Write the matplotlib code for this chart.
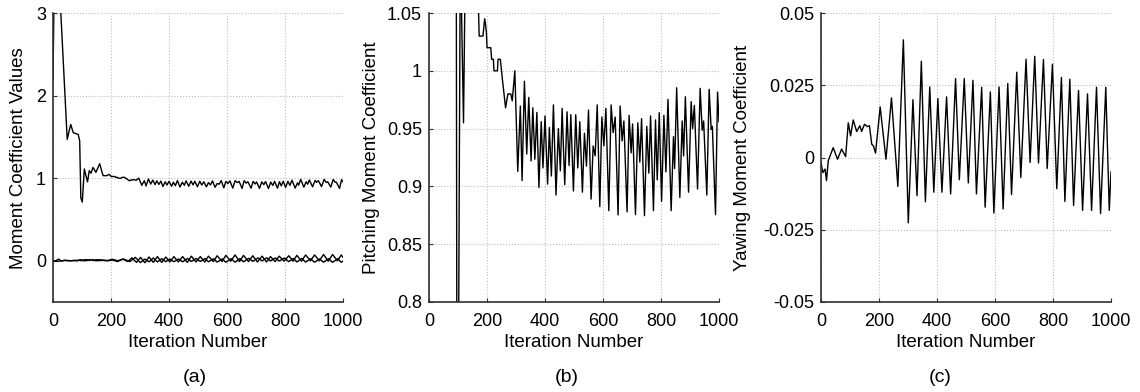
import matplotlib
matplotlib.use("Agg")
import matplotlib.pyplot as plt
from matplotlib.ticker import FixedLocator, FuncFormatter

plt.rcParams['font.family'] = ['Liberation Sans', 'DejaVu Sans']

# ---------------- data ----------------
# Pitching moment coefficient (iteration, value)
pitch_iter = [0, 5, 15, 27, 49, 61, 70, 87, 92, 96, 101, 108, 119, 125, 131, 138, 148, 161, 170,
              173, 186, 192, 195, 198, 200, 213, 216, 222, 224, 236, 238, 246, 253, 264, 272, 282, 287, 296,
              306, 315, 321, 329, 337, 344, 352, 358, 365, 372, 379, 387, 393, 400, 409, 415, 422, 429,
              438, 446, 453, 459, 468, 476, 483, 489, 498, 506, 513, 520, 529, 536, 543, 550, 559, 566,
              573, 580, 589, 596, 603, 610, 620, 628, 635, 642, 652, 659, 666, 672, 683, 690, 697, 702,
              712, 720, 727, 733, 743, 751, 758, 764, 774, 781, 787, 794, 802, 810, 817, 824, 835, 843,
              847, 854, 865, 873, 878, 884, 895, 904, 909, 915, 926, 935, 942, 947, 958, 966, 973, 977,
              988, 995, 1000]
pitch_vals = [2.2, 3.6, 3.8, 3.0, 1.47, 1.65, 1.55, 1.53, 1.45, 0.76, 0.71, 1.11, 0.955, 1.09, 1.06, 1.13, 1.07, 1.175, 1.06,
              1.03, 1.03, 1.045, 1.04, 1.033, 1.02, 1.02, 1.01, 1.01, 1.0, 1.0, 1.01, 1.01, 0.993, 0.968, 0.98, 0.98, 0.974, 1.0,
              0.913, 0.9695, 0.905, 0.991, 0.928, 0.977, 0.922, 0.968, 0.9235, 0.964, 0.899, 0.956, 0.916, 0.961, 0.902, 0.951, 0.909, 0.9705,
              0.8925, 0.95, 0.9135, 0.9675, 0.9015, 0.9645, 0.918, 0.962, 0.896, 0.962, 0.916, 0.956, 0.895, 0.946, 0.9175, 0.966, 0.889, 0.935,
              0.9265, 0.9705, 0.8825, 0.960, 0.935, 0.9675, 0.879, 0.9705, 0.9465, 0.960, 0.8753, 0.9695, 0.9394, 0.9566, 0.878, 0.9615, 0.929, 0.954,
              0.8756, 0.955, 0.921, 0.9586, 0.8747, 0.952, 0.9115, 0.961, 0.879, 0.9575, 0.9057, 0.9638, 0.887, 0.9615, 0.9126, 0.9753, 0.879, 0.943,
              0.9155, 0.9853, 0.8905, 0.9566, 0.9264, 0.9776, 0.895, 0.9733, 0.95, 0.970, 0.8977, 0.9848, 0.9486, 0.9566, 0.8925, 0.984, 0.9494, 0.952,
              0.8756, 0.9816, 0.956]

# Yawing moment coefficient (iteration, value)
yaw_iter = [0, 6, 14, 19, 25, 42, 57, 71, 85, 94, 102, 111, 123, 134, 140, 150, 160, 167, 175, 181, 188,
            204, 224, 243, 265, 284, 301, 317, 331, 346, 360, 375, 389, 403, 417, 433, 447, 464, 477, 494, 508,
            524, 536, 554, 566, 584, 596, 614, 628, 644, 657, 675, 689, 707, 721, 737, 750, 767, 780, 798, 813,
            829, 841, 858, 871, 888, 902, 919, 933, 950, 964, 982, 994, 1000]
yaw_vals = [-0.0017, -0.0052, -0.004, -0.008, -0.0011, 0.0034, -0.0006, 0.0029, 0.0003, 0.012, 0.0075, 0.013, 0.009, 0.011, 0.009, 0.0115, 0.0107, 0.011, 0.0046, 0.004, 0.0015,
            0.0175, -0.0006, 0.0206, -0.010, 0.0407, -0.0226, 0.020, -0.0132, 0.0333, -0.0153, 0.0244, -0.012, 0.0204, -0.012, 0.021, -0.0126, 0.0273, -0.0077, 0.0273, -0.0088,
            0.0267, -0.0126, 0.0243, -0.0172, 0.0227, -0.0192, 0.0244, -0.0178, 0.0256, -0.0128, 0.0295, -0.0069, 0.034, -0.0017, 0.035, -0.0019, 0.0339, -0.0038, 0.0323, -0.0108,
            0.0277, -0.0152, 0.0271, -0.0166, 0.0232, -0.0183, 0.022, -0.0183, 0.0243, -0.0194, 0.0243, -0.0183, -0.005]

# Rolling moment coefficient (iteration, value) - lower curves of panel (a)
roll_iter = [0, 10, 20, 28, 40, 60, 90, 110, 130, 150, 170, 190, 205, 222, 240, 258, 272, 288, 302, 317,
             331, 346, 360, 375, 389, 403, 417, 432, 447, 463, 477, 493, 508, 523, 536, 553, 566, 583, 596,
             613, 628, 643, 657, 674, 689, 705, 721, 736, 750, 766, 780, 797, 813, 828, 841, 857, 871, 888,
             902, 918, 933, 949, 964, 981, 994, 1000]
roll_vals = [0.0, 0.0, 0.02, -0.005, 0.005, 0.0, 0.005, 0.0, 0.01, 0.0, 0.005, 0.0, 0.01, -0.01, 0.02, -0.01, 0.035, -0.02, 0.04, -0.025,
             0.045, -0.02, 0.05, -0.02, 0.045, -0.015, 0.05, -0.015, 0.05, -0.02, 0.055, -0.015, 0.05, -0.015, 0.055, -0.01, 0.06, -0.01, 0.065,
             -0.005, 0.07, -0.01, 0.065, -0.01, 0.06, -0.015, 0.055, -0.015, 0.05, -0.01, 0.055, -0.005, 0.06, -0.005, 0.065, -0.005, 0.07, 0.0,
             0.07, 0.0, 0.075, -0.005, 0.075, 0.0, 0.07, 0.04]

x_ticks = [0, 200, 400, 600, 800, 1000]
a_yticks = [0, 1, 2, 3]
b_yticks = [0.8, 0.85, 0.9, 0.95, 1.0, 1.05]
c_yticks = [-0.05, -0.025, 0, 0.025, 0.05]

xlabel = "Iteration Number"
ylabels = ["Moment Coefficient Values", "Pitching Moment Coefficient", "Yawing Moment Coefficient"]
panel_tags = ["(a)", "(b)", "(c)"]

# ---------------- figure ----------------
fig = plt.figure(figsize=(11.4, 3.92), dpi=100)
W, H = 1140, 392
lefts = [53, 429, 821]
ax_w, top_px, bot_px = 290, 13, 302
axes = [fig.add_axes([l / W, 1 - bot_px / H, ax_w / W, (bot_px - top_px) / H]) for l in lefts]

def fmt(v, pos=None):
    s = f"{v:g}"
    return "0" if s in ("-0", "0") else s

line_kw = dict(color="black", lw=1.0)

ax = axes[0]
ax.plot(pitch_iter, pitch_vals, **line_kw)
ax.plot(roll_iter, roll_vals, **line_kw)
ax.plot(yaw_iter, yaw_vals, **line_kw)
ax.set_ylim(-0.5, 3)
ax.yaxis.set_major_locator(FixedLocator(a_yticks))

ax = axes[1]
ax.plot(pitch_iter, pitch_vals, **line_kw)
ax.set_ylim(0.8, 1.05)
ax.yaxis.set_major_locator(FixedLocator(b_yticks))

ax = axes[2]
ax.plot(yaw_iter, yaw_vals, **line_kw)
ax.set_ylim(-0.05, 0.05)
ax.yaxis.set_major_locator(FixedLocator(c_yticks))

label_x = [-0.119, -0.20, -0.269]
tag_x = [195, 567, 940]
for i, ax in enumerate(axes):
    ax.set_xlim(0, 1000)
    ax.xaxis.set_major_locator(FixedLocator(x_ticks))
    ax.yaxis.set_major_formatter(FuncFormatter(fmt))
    ax.grid(True, linestyle=":", color="#bdbdbd", lw=0.8)
    ax.set_axisbelow(True)
    for s in ("top", "right"):
        ax.spines[s].set_visible(False)
    for s in ("left", "bottom"):
        ax.spines[s].set_color("#303030")
        ax.spines[s].set_linewidth(1.2)
    ax.tick_params(direction="in", length=3, width=0.8, labelsize=13, colors="#303030",
                   labelcolor="black", top=False, right=False)
    ax.tick_params(axis="x", pad=8)
    ax.tick_params(axis="y", pad=5)
    ax.set_xlabel(xlabel, fontsize=13.5)
    ax.xaxis.set_label_coords(0.499, -0.140)
    ax.xaxis.label.set_va("center")
    ax.set_ylabel(ylabels[i], fontsize=13.5, va="center")
    ax.yaxis.set_label_coords(label_x[i], 0.498)
    fig.text(tag_x[i] / W, 1 - 377 / H, panel_tags[i], fontsize=14, ha="center", va="center")

fig.savefig("out.png", dpi=100)
